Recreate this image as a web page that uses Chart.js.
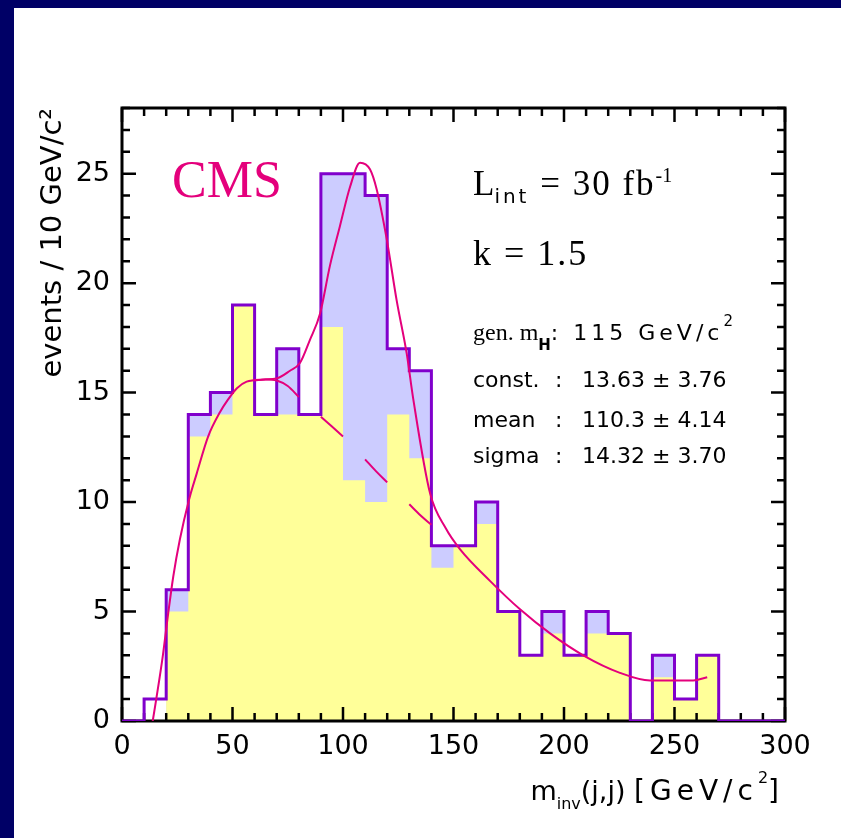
<!DOCTYPE html>
<html>
<head>
<meta charset="utf-8">
<script src="https://cdn.jsdelivr.net/npm/chart.js@4.4.0/dist/chart.umd.min.js"></script>
<style>
  html, body { margin: 0; padding: 0; background: #ffffff; overflow: hidden; }
  #wrap { position: relative; width: 841px; height: 838px; overflow: hidden; background: #ffffff; }
  .navyL { position: absolute; left: 0; top: 0; width: 14px; height: 838px; background: #000066; }
  .navyT { position: absolute; left: 0; top: 0; width: 841px; height: 8px; background: #000066; }
  canvas { position: absolute; left: 0; top: 0; }
</style>
</head>
<body>
<div id="wrap">
  <div class="navyL"></div>
  <div class="navyT"></div>
  <canvas id="c" width="841" height="838"></canvas>
</div>
<script>
// ---------------- data ----------------
const binLowEdges = [0,10,20,30,40,50,60,70,80,90,100,110,120,130,140,150,160,170,180,190,200,210,220,230,240,250,260,270,280,290];
const binWidth = 10;
// outline histogram (events / 10 GeV)
const dataCounts       = [0,1,6,14,15,19,14,17,14,25,25,24,17,16,8,8,10,5,3,5,3,5,4,0,3,1,3,0,0,0];
// yellow background component
const backgroundCounts = [0,0,5,13,14,19,14,14,14,18,11,10,14,12,7,8,9,5,3,4,3,4,4,0,2,1,3,0,0,0];
// lavender signal component (stacked on background)
const signalCounts     = [0,0,1,1,1,0,0,3,0,7,14,14,3,4,1,0,1,0,0,1,0,1,0,0,1,0,0,0,0,0];

// fitted curve: background + Gaussian
const fitTotalX = [13.9,15.5,18.5,20.5,23.2,26.2,30.3,33.8,39.0,44.3,48.1,52.0,56.4,63.9,70.0,76.0,80.5,85.0,89.6,94.1,98.6,103.2,107.7,112.2,115.2,119.8,124.3,128.8,131.8,139.4,146.5,152.9,166.5,180.1,193.7,208.7,225.3,238.9,258.5,264.8];
const fitTotalY = [0.0,1.0,3.0,4.6,6.6,8.3,10.1,11.3,13.0,14.1,14.7,15.2,15.5,15.6,15.65,16.0,16.35,17.4,18.6,20.8,22.6,24.4,25.5,25.2,24.3,22.0,19.2,16.8,14.7,10.4,8.8,7.85,6.4,5.1,4.0,3.0,2.2,1.85,1.85,2.0];

// fitted background-only curve (visible pieces; null = hidden)
const fitBgX = [60,65,70,75,80,85,90,95,100,105,110,115,120,125,130,135,140];
const fitBgY = [15.55,15.6,15.55,15.3,14.8,null,13.9,13.45,13.0,null,11.95,11.4,10.9,null,9.9,9.4,8.96];

const xTickValues = [0,50,100,150,200,250,300];
const yTickValues = [0,5,10,15,20,25];
const xMinorStep = 10;
const yMinorStep = 1;
const X_MIN = 0, X_MAX = 300, Y_MIN = 0, Y_MAX = 28;

// ---------------- text ----------------
const yTitle = 'events / 10 GeV/c²';
const statsLabels = ['const.', 'mean', 'sigma'];
const statsValues = ['13.63 ± 3.76', '110.3 ± 4.14', '14.32 ± 3.70'];

// ---------------- helpers ----------------
function stepPoints(values) {
  const pts = binLowEdges.map((x, i) => ({ x: x, y: values[i] }));
  pts.push({ x: binLowEdges[binLowEdges.length - 1] + binWidth, y: values[values.length - 1] });
  return pts;
}
const stackedCounts = backgroundCounts.map((b, i) => b + signalCounts[i]);
const curvePoints = (xs, ys) => xs.map((x, i) => ({ x: x, y: ys[i] }));

const PINK = '#e4007c';
const PURPLE = '#8000cc';

function drawRuns(ctx, x, y, runs, align) {
  let total = 0;
  for (const r of runs) {
    ctx.font = r.font; ctx.letterSpacing = (r.ls || 0) + 'px';
    r._w = ctx.measureText(r.text).width;
    total += r._w;
  }
  let cx = align === 'right' ? x - total : x;
  ctx.textAlign = 'left';
  ctx.textBaseline = 'alphabetic';
  for (const r of runs) {
    ctx.font = r.font; ctx.letterSpacing = (r.ls || 0) + 'px';
    ctx.fillStyle = r.color || '#000';
    ctx.fillText(r.text, cx, y + (r.dy || 0));
    cx += r._w;
  }
  ctx.letterSpacing = '0px';
}

// frame + inward ticks, drawn right after the yellow fill
const framePlugin = {
  id: 'frame',
  afterDatasetDraw(chart, args) {
    if (args.index !== 1) return;
    const { ctx, chartArea: a, scales: { x, y } } = chart;
    ctx.save();
    ctx.strokeStyle = '#000';
    ctx.lineWidth = 3;
    ctx.strokeRect(a.left, a.top, a.right - a.left, a.bottom - a.top);
    ctx.lineWidth = 2.5;
    ctx.beginPath();
    for (let v = X_MIN; v <= X_MAX + 1e-6; v += xMinorStep) {
      const px = x.getPixelForValue(v);
      const len = xTickValues.includes(v) ? 14 : 8;
      ctx.moveTo(px, a.bottom); ctx.lineTo(px, a.bottom - len);
      ctx.moveTo(px, a.top); ctx.lineTo(px, a.top + len);
    }
    for (let v = Y_MIN; v <= Y_MAX + 1e-6; v += yMinorStep) {
      const py = y.getPixelForValue(v);
      const len = yTickValues.includes(v) ? 14 : 8;
      ctx.moveTo(a.left, py); ctx.lineTo(a.left + len, py);
      ctx.moveTo(a.right, py); ctx.lineTo(a.right - len, py);
    }
    ctx.stroke();
    ctx.restore();
  }
};

const textPlugin = {
  id: 'texts',
  afterDraw(chart) {
    const ctx = chart.ctx;
    ctx.save();
    const serif = '"Liberation Serif", "Times New Roman", serif';
    const sans = '"DejaVu Sans", sans-serif';
    // CMS
    drawRuns(ctx, 172, 197, [{ text: 'CMS', font: '52px ' + serif, color: PINK }]);
    // L_int = 30 fb^-1
    drawRuns(ctx, 473, 195, [
      { text: 'L', font: '35px ' + serif },
      { text: 'int', font: '20px ' + sans, dy: 8, ls: 3 },
      { text: ' = 30 fb', font: '35px ' + serif, ls: 2 },
      { text: '-1', font: '20px ' + serif, dy: -13 }
    ]);
    // k = 1.5
    drawRuns(ctx, 473, 265, [{ text: 'k = 1.5', font: '36px ' + serif, ls: 2 }]);
    // gen. m_H: 115 GeV/c^2
    drawRuns(ctx, 473, 340, [
      { text: 'gen.', font: '24px ' + serif },
      { text: ' m', font: '24px ' + serif },
      { text: 'H', font: 'bold 15px ' + sans, dy: 10 },
      { text: ': 115 GeV/c', font: '22px ' + sans, ls: 4 },
      { text: '2', font: '15px ' + sans, dy: -14 }
    ]);
    // stats box lines
    const baselines = [387, 427, 463];
    statsLabels.forEach((lab, i) => {
      drawRuns(ctx, 473, baselines[i], [{ text: lab, font: '22px ' + sans }]);
      drawRuns(ctx, 555, baselines[i], [{ text: ':', font: '22px ' + sans }]);
      drawRuns(ctx, 582, baselines[i], [{ text: statsValues[i], font: '22px ' + sans }]);
    });
    // x axis title m_inv(j,j) [GeV/c^2]
    drawRuns(ctx, 779, 800, [
      { text: 'm', font: '27px ' + sans },
      { text: 'inv', font: '16px ' + sans, dy: 9 },
      { text: '(j,j) ', font: '27px ' + sans },
      { text: '[GeV/c', font: '28px ' + sans, ls: 5 },
      { text: '2', font: '16px ' + sans, dy: -17 },
      { text: ']', font: '28px ' + sans }
    ], 'right');
    ctx.restore();
  }
};

new Chart(document.getElementById('c'), {
  type: 'line',
  data: {
    datasets: [
      {
        label: 'signal + background',
        data: stepPoints(stackedCounts),
        stepped: true, fill: 'origin',
        backgroundColor: '#ccccff', borderColor: 'rgba(0,0,0,0)', borderWidth: 0,
        pointRadius: 0, order: 6
      },
      {
        label: 'background',
        data: stepPoints(backgroundCounts),
        stepped: true, fill: 'origin',
        backgroundColor: '#ffff99', borderColor: 'rgba(0,0,0,0)', borderWidth: 0,
        pointRadius: 0, order: 5
      },
      {
        label: 'data',
        data: stepPoints(dataCounts),
        stepped: true, fill: false,
        borderColor: PURPLE, borderWidth: 3,
        pointRadius: 0, order: 3
      },
      {
        label: 'background fit',
        data: curvePoints(fitBgX, fitBgY),
        fill: false, spanGaps: false, cubicInterpolationMode: 'monotone',
        borderColor: PINK, borderWidth: 2, pointRadius: 0, order: 2
      },
      {
        label: 'background + Gaussian fit',
        data: curvePoints(fitTotalX, fitTotalY),
        fill: false, cubicInterpolationMode: 'monotone',
        borderColor: PINK, borderWidth: 2, pointRadius: 0, order: 1
      }
    ]
  },
  options: {
    responsive: false,
    devicePixelRatio: 1,
    animation: false,
    layout: { padding: { left: 0, top: 108, right: 56, bottom: 0 } },
    plugins: { legend: { display: false }, tooltip: { enabled: false } },
    scales: {
      x: {
        type: 'linear', position: 'bottom', min: X_MIN, max: X_MAX,
        afterFit(scale) { scale.height = 117; },
        afterBuildTicks(scale) { scale.ticks = xTickValues.map(v => ({ value: v })); },
        grid: { display: false, drawTicks: false },
        border: { display: false },
        ticks: { font: { family: 'DejaVu Sans', size: 27 }, color: '#000', padding: 10, maxRotation: 0, autoSkip: false }
      },
      y: {
        type: 'linear', position: 'left', min: Y_MIN, max: Y_MAX,
        afterFit(scale) { scale.width = 122; },
        afterBuildTicks(scale) { scale.ticks = yTickValues.map(v => ({ value: v })); },
        grid: { display: false, drawTicks: false },
        border: { display: false },
        ticks: { font: { family: 'DejaVu Sans', size: 27 }, color: '#000', padding: 12, autoSkip: false },
        title: {
          display: true, text: yTitle, align: 'end', color: '#000',
          font: { family: 'DejaVu Sans', size: 29 }, padding: { top: 36, bottom: 0 }
        }
      }
    }
  },
  plugins: [framePlugin, textPlugin]
});
</script>
</body>
</html>
